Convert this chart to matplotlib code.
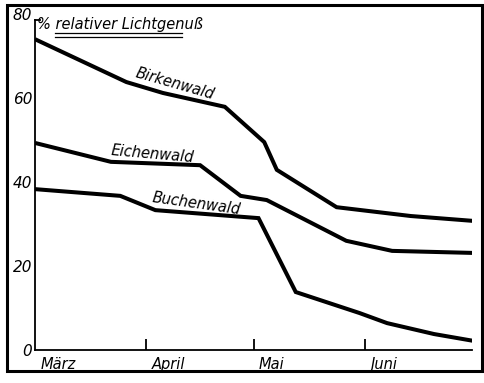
import matplotlib
matplotlib.use("Agg")
import matplotlib.pyplot as plt
from matplotlib.patches import Rectangle
from matplotlib.lines import Line2D

# Tage ab 1. März
birke_x = [0, 25.5, 35.7, 53, 64, 67.5, 84.2, 104.9, 122.9]
birke_y = [74.0, 63.8, 61.2, 57.9, 49.5, 42.9, 34.0, 31.9, 30.7]

eiche_x = [0, 21.2, 46.1, 57.4, 64.7, 86.9, 99.7, 122.9]
eiche_y = [49.3, 44.8, 44.0, 36.7, 35.7, 26.0, 23.6, 23.1]

buche_x = [0, 23.8, 33.6, 62.4, 72.8, 90.6, 98.3, 111.4, 122.9]
buche_y = [38.3, 36.7, 33.3, 31.4, 13.8, 8.8, 6.4, 3.8, 2.1]

monate = ["März", "April", "Mai", "Juni"]
monat_tage = [0, 31, 61, 92]
y_ticks = [0, 20, 40, 60, 80]

W, H = 485, 383
fig = plt.figure(figsize=(W / 100, H / 100), dpi=100)

def fx(px):
    return px / W

def fy(py):
    return 1 - py / H

# Achsen: x 35..472 px, y 0 -> 350 px, 80 -> 14 px
ax = fig.add_axes([fx(35), fy(350), fx(472) - fx(35), fy(14) - fy(350)])
ax.set_xlim(0, 122)
ax.set_ylim(0, 80)

estilo = dict(color="black", linewidth=2.9, solid_joinstyle="miter", solid_capstyle="butt")
ax.plot(birke_x, birke_y, **estilo)
ax.plot(eiche_x, eiche_y, **estilo)
ax.plot(buche_x, buche_y, **estilo)

for lado in ["top", "right"]:
    ax.spines[lado].set_visible(False)
ax.spines["left"].set_linewidth(1.3)
ax.spines["bottom"].set_linewidth(1.3)
ax.spines["left"].set_bounds(0, 78.6)

ax.set_yticks(y_ticks)
ax.set_yticklabels([str(v) for v in y_ticks], fontsize=11, style="italic")
ax.tick_params(axis="y", length=0, pad=2)

# Monatsstriche nach innen, Beschriftung rechts daneben
ax.set_xticks(monat_tage[1:])
ax.set_xticklabels([])
ax.tick_params(axis="x", direction="in", length=8, width=1.3)
for nome, dia in zip(monate, monat_tage):
    ax.text(dia + 1.5, -1.6, nome, fontsize=10.5, style="italic", ha="left", va="top")

# Kurvenbeschriftung
ax.text(39.1, 63.3, "Birkenwald", fontsize=10.5, style="italic", rotation=-16, ha="center", va="center")
ax.text(32.7, 46.7, "Eichenwald", fontsize=10.5, style="italic", rotation=-5, ha="center", va="center")
ax.text(45.0, 34.8, "Buchenwald", fontsize=10.5, style="italic", rotation=-8, ha="center", va="center")

# Titel mit doppelter Unterstreichung
fig.text(fx(37), fy(25), "% relativer Lichtgenuß", fontsize=10.5, style="italic", ha="left", va="center")
for yy in (33, 36.5):
    fig.add_artist(Line2D([fx(55), fx(182)], [fy(yy), fy(yy)], color="black", linewidth=0.9))
fig.add_artist(Line2D([fx(35), fx(40)], [fy(20), fy(20)], color="black", linewidth=1.3))

# Rahmen
fig.add_artist(Rectangle((fx(7), fy(371)), fx(482) - fx(7), fy(5) - fy(371),
                         fill=False, edgecolor="black", linewidth=2.2))

fig.savefig("out.png", dpi=100)
